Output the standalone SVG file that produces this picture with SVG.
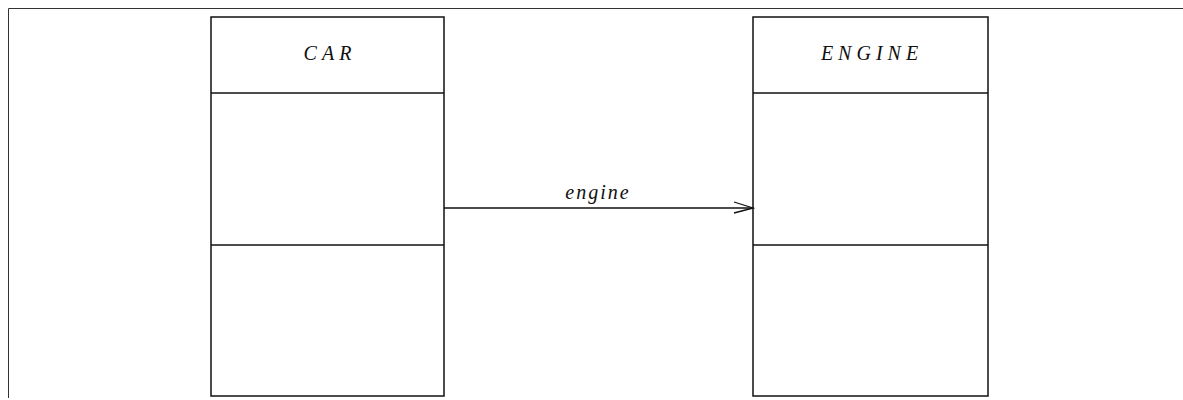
<svg xmlns="http://www.w3.org/2000/svg" width="1183" height="400" viewBox="0 0 1183 400">
<style>
.box{fill:#fff;stroke:#111;stroke-width:1.5}
.ln{stroke:#111;stroke-width:1.5;fill:none}
.frame{stroke:#333;stroke-width:1;fill:none}
.t{font-family:"Liberation Serif",serif;font-style:italic;font-size:20px;fill:#111;text-anchor:middle;letter-spacing:5px}
.lbl{font-family:"Liberation Serif",serif;font-style:italic;font-size:20px;fill:#111;text-anchor:middle;letter-spacing:2px}
</style>
<defs>
<marker id="open" markerWidth="22" markerHeight="14" refX="20" refY="7" orient="auto" markerUnits="userSpaceOnUse">
<path d="M1,1 L20,7 L1,12" fill="none" stroke="#111" stroke-width="1.3"/>
</marker>
</defs>
<rect width="1183" height="400" fill="#fff"/>
<path class="frame" d="M8.5,398 V8.5 H1183"/>
<g id="car">
<rect class="box" x="211" y="17" width="233" height="379"/>
<line class="ln" x1="211" y1="93" x2="444" y2="93"/>
<line class="ln" x1="211" y1="245" x2="444" y2="245"/>
<text class="t" x="330" y="60">CAR</text>
</g>
<g id="engine">
<rect class="box" x="753" y="17" width="235" height="379"/>
<line class="ln" x1="753" y1="93" x2="988" y2="93"/>
<line class="ln" x1="753" y1="245" x2="988" y2="245"/>
<text class="t" x="872" y="60">ENGINE</text>
</g>
<g id="connectors">
<line class="ln" x1="444" y1="208" x2="753" y2="208" marker-end="url(#open)"/>
<text class="lbl" x="598" y="199">engine</text>
</g>
</svg>
